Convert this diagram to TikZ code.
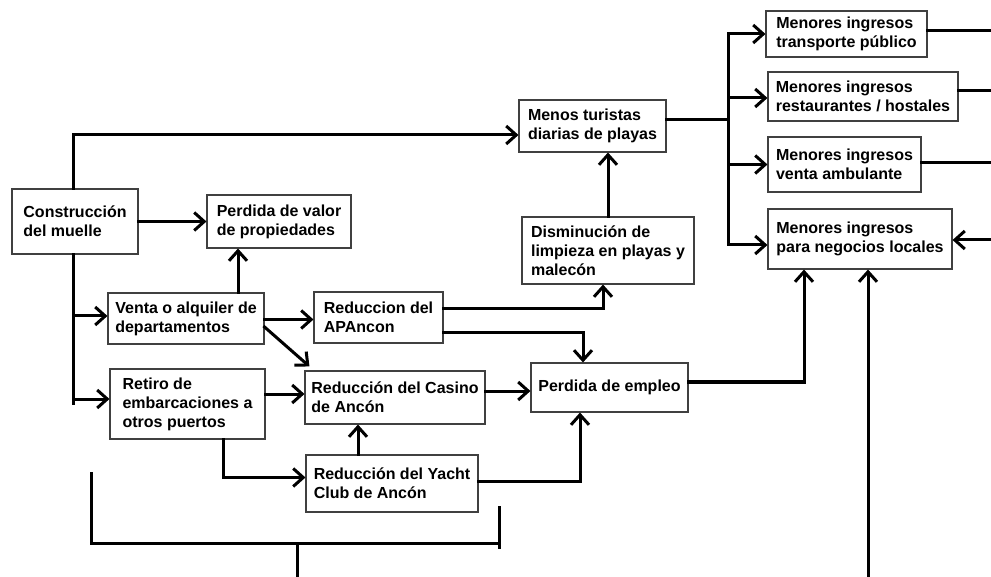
\documentclass[tikz,border=0pt]{standalone}
\usepackage{fontspec}
\setmainfont{Liberation Sans}
\usetikzlibrary{arrows.meta}
\begin{document}
\begin{tikzpicture}[x=1pt,y=-1pt,
  box/.style={draw=black!75, line width=1.1pt, fill=white, align=left, inner sep=2pt,
    font=\fontsize{16}{19}\selectfont\bfseries},
  conn/.style={line width=3pt, draw=black, line cap=rect},
  arr/.style={conn, -{Straight Barb[length=10pt,width=18pt]}}]
\useasboundingbox[fill=white] (0,0) rectangle (991,577);

% nodes
\node[box, minimum width=126pt, minimum height=65pt] (con) at (75,221.5) {Construcción\\del muelle};
\node[box, minimum width=144pt, minimum height=53pt] (per) at (279,221.5) {Perdida de valor\\de propiedades};
\node[box, minimum width=156pt, minimum height=51pt] (ven) at (186,318.5) {Venta o alquiler de\\departamentos};
\node[box, minimum width=155pt, minimum height=70pt] (ret) at (187.5,404) {Retiro de\\embarcaciones a\\otros puertos};
\node[box, minimum width=129pt, minimum height=51pt] (apa) at (378.5,317.5) {Reduccion del\\APAncon};
\node[box, minimum width=180pt, minimum height=53pt] (cas) at (395,397.5) {Reducción del Casino\\de Ancón};
\node[box, minimum width=172pt, minimum height=57pt] (yac) at (392,483.5) {Reducción del Yacht\\Club de Ancón};
\node[box, minimum width=147pt, minimum height=52pt] (men) at (592.5,126) {Menos turistas\\diarias de playas};
\node[box, minimum width=172pt, minimum height=67pt] (dis) at (608,250.5) {Disminución de\\limpieza en playas y\\malecón};
\node[box, minimum width=157pt, minimum height=49pt] (emp) at (609.5,387.5) {Perdida de empleo};
\node[box, minimum width=161pt, minimum height=46pt] (m1) at (846.5,34) {Menores ingresos\\transporte público};
\node[box, minimum width=190pt, minimum height=49pt] (m2) at (863,96.5) {Menores ingresos\\restaurantes / hostales};
\node[box, minimum width=153pt, minimum height=55pt] (m3) at (844.5,164.5) {Menores ingresos\\venta ambulante};
\node[box, minimum width=184pt, minimum height=60pt] (m4) at (860,239) {Menores ingresos\\para negocios locales};

% free ends
\coordinate (jn) at (728,120);
\coordinate (cb) at (73,403);
\coordinate (rc) at (265,394);
\coordinate (r1) at (991,31);
\coordinate (r2) at (991,91);
\coordinate (r3) at (991,163);
\coordinate (r4) at (991,240);
\coordinate (b1) at (868,577);
\coordinate (brA) at (91,473);
\coordinate (brB) at (91,543);
\coordinate (brC) at (499,543);
\coordinate (brD) at (499,507);
\coordinate (brE) at (499,547);
\coordinate (brM) at (297,543);
\coordinate (brN) at (297,577);

% connectors
\draw[arr] ([xshift=-2pt]con.north) |- ([yshift=-9pt]men.west);
\draw[arr] (con.east) -- (per.west);
\draw[conn] ([xshift=-2pt]con.south) -- (cb);
\draw[arr] ([xshift=-2pt]con.south) |- ([yshift=2.5pt]ven.west);
\draw[arr] ([xshift=-2pt]con.south) |- ([yshift=5pt]ret.west);
\draw[arr] ([xshift=52pt]ven.north) -- ([xshift=52pt]ven.north |- per.south);
\draw[arr] ([yshift=-1pt]ven.east) -- ([yshift=-1pt]ven.east -| apa.west);
\draw[arr] ([yshift=-8.5pt]ven.east) -- ([xshift=5pt,yshift=4pt]cas.north west);
\draw[arr] (rc) -- (rc -| cas.west);
\draw[arr] ([xshift=35.5pt]ret.south) |- ([yshift=6pt]yac.west);
\draw[arr] ([xshift=-34pt]yac.north) -- ([xshift=-34pt]yac.north |- cas.south);
\draw[arr] ([yshift=8.5pt]apa.east) -| ([xshift=-5pt]dis.south);
\draw[arr] ([yshift=-15.5pt]apa.east) -| ([xshift=-26.5pt]emp.north);
\draw[arr] ([yshift=6.5pt]cas.east) -- ([yshift=6.5pt]cas.east -| emp.west);
\draw[arr] ([yshift=2.5pt]yac.east) -| ([xshift=-29.5pt]emp.south);
\draw[arr] (dis.north) -- (dis.north |- men.south);
\draw[conn] ([yshift=6pt]men.east) -- (jn);
\draw[arr] (jn) |- (m1.west);
\draw[arr] (jn) |- ([yshift=-1.5pt]m2.west);
\draw[arr] (jn) |- (m3.west);
\draw[arr] (jn) |- ([yshift=-6pt]m4.west);
\draw[arr] ([yshift=5.5pt]emp.east) -| ([xshift=-56pt]m4.south);
\draw[arr] (b1) -- (b1 |- m4.south);
\draw[conn] ([yshift=3pt]m1.east) -- (r1);
\draw[conn] ([yshift=5.5pt]m2.east) -- (r2);
\draw[conn] ([yshift=1.5pt]m3.east) -- (r3);
\draw[arr] (r4) -- ([yshift=-1pt]m4.east);
\draw[conn] (brA) -- (brB) -- (brC);
\draw[conn] (brD) -- (brE);
\draw[conn] (brM) -- (brN);
\end{tikzpicture}
\end{document}
